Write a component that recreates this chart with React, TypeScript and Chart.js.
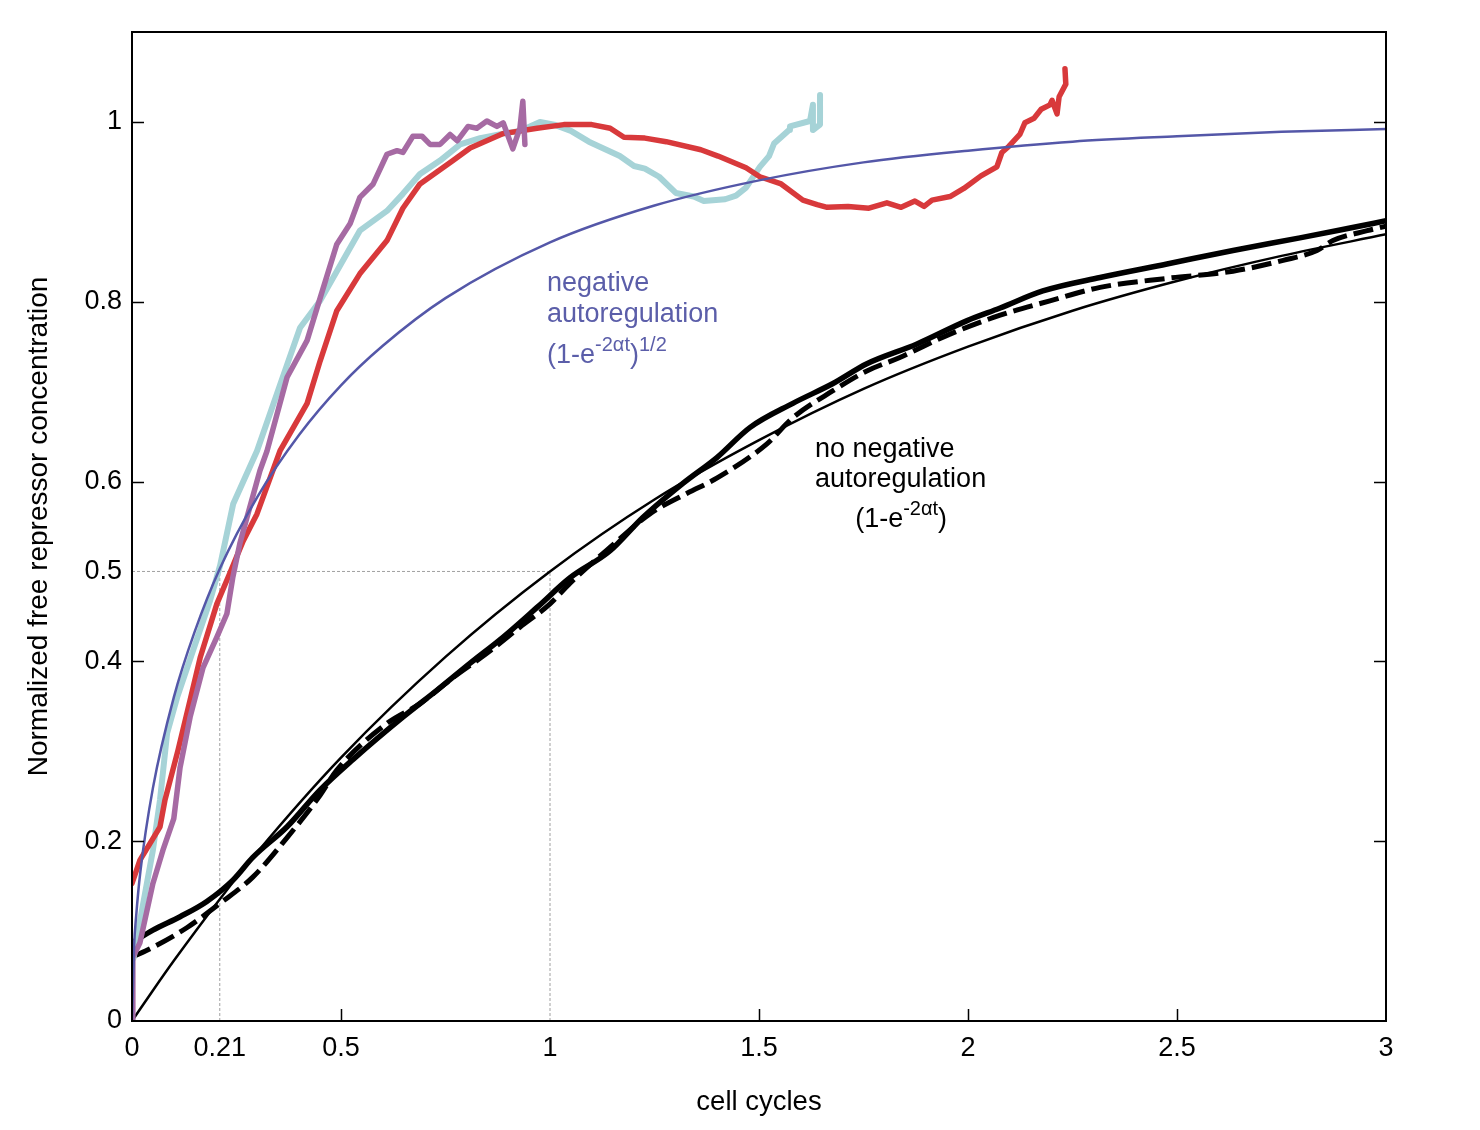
import React, { useEffect, useRef } from "react";
import { Chart, registerables } from "chart.js";

Chart.register(...registerables);

// ---- axis ticks ----
const xTickLabels = [0, 0.21, 0.5, 1, 1.5, 2, 2.5, 3];
const yTickLabels = [0, 0.2, 0.4, 0.5, 0.6, 0.8, 1];
const xTickMarks = [0.5, 1.5, 2, 2.5];
const yTickMarks = [0.2, 0.4, 0.6, 0.8, 1];

// ---- theoretical: no negative autoregulation (1-e^-2at) ----
const simpleT = [0, 0.05, 0.1, 0.21, 0.3, 0.5, 0.75, 1, 1.25, 1.5, 1.75, 2, 2.25, 2.5, 2.75, 3];
const simpleV = [0, 0.034, 0.067, 0.1355, 0.188, 0.293, 0.405, 0.5, 0.58, 0.646, 0.703, 0.75, 0.79, 0.823, 0.851, 0.875];

// ---- theoretical: negative autoregulation (1-e^-2at)^1/2 ----
const narT = [0, 0.005, 0.01, 0.02, 0.05, 0.1, 0.15, 0.21, 0.3, 0.4, 0.5, 0.6, 0.75, 1, 1.25, 1.5, 1.75, 2, 2.25, 2.5, 2.75, 3];
const narV = [0, 0.083, 0.117, 0.166, 0.259, 0.36, 0.433, 0.503, 0.583, 0.652, 0.707, 0.751, 0.804, 0.866, 0.907, 0.935, 0.955, 0.968, 0.978, 0.984, 0.989, 0.992];

// ---- measured: no autoregulation (thick solid) ----
const solidT = [0, 0.05, 0.115, 0.179, 0.242, 0.289, 0.371, 0.45, 0.529, 0.648, 0.73, 0.809, 0.888, 0.969, 1.048, 1.144, 1.222, 1.318, 1.4, 1.478, 1.581, 1.677, 1.758, 1.878, 1.998, 2.077, 2.179, 2.316, 2.476, 2.634, 2.794, 2.914, 3.0];
const solidV = [0.087, 0.101, 0.116, 0.133, 0.157, 0.182, 0.216, 0.257, 0.291, 0.338, 0.368, 0.398, 0.427, 0.46, 0.493, 0.523, 0.56, 0.598, 0.627, 0.66, 0.687, 0.709, 0.731, 0.753, 0.779, 0.793, 0.812, 0.827, 0.842, 0.857, 0.871, 0.882, 0.89];

// ---- measured: no autoregulation (thick dashed) ----
const dashT = [0, 0.05, 0.132, 0.211, 0.289, 0.371, 0.45, 0.49, 0.61, 0.689, 0.768, 0.849, 0.928, 1.0, 1.048, 1.144, 1.239, 1.328, 1.4, 1.519, 1.581, 1.677, 1.758, 1.837, 1.957, 2.077, 2.196, 2.316, 2.476, 2.634, 2.754, 2.835, 2.873, 2.955, 3.0];
const dashV = [0.071, 0.082, 0.104, 0.131, 0.16, 0.204, 0.251, 0.279, 0.331, 0.353, 0.382, 0.409, 0.438, 0.464, 0.487, 0.527, 0.564, 0.587, 0.604, 0.642, 0.671, 0.701, 0.723, 0.738, 0.764, 0.785, 0.801, 0.816, 0.826, 0.834, 0.846, 0.857, 0.868, 0.879, 0.884];

// ---- measured: negative autoregulation, red ----
const redT = [0, 0.019, 0.067, 0.079, 0.11, 0.139, 0.163, 0.203, 0.234, 0.266, 0.299, 0.354, 0.419, 0.45, 0.49, 0.545, 0.61, 0.648, 0.689, 0.768, 0.809, 0.888, 0.969, 1.033, 1.1, 1.144, 1.177, 1.227, 1.278, 1.361, 1.402, 1.469, 1.502, 1.553, 1.605, 1.639, 1.663, 1.713, 1.763, 1.806, 1.84, 1.873, 1.895, 1.914, 1.957, 1.99, 2.031, 2.069, 2.081, 2.098, 2.124, 2.136, 2.158, 2.175, 2.196, 2.201, 2.213, 2.218, 2.234, 2.232];
const redV = [0.153, 0.179, 0.216, 0.246, 0.301, 0.357, 0.404, 0.464, 0.498, 0.534, 0.564, 0.634, 0.687, 0.734, 0.79, 0.831, 0.868, 0.904, 0.931, 0.957, 0.971, 0.987, 0.993, 0.997, 0.997, 0.993, 0.983, 0.982, 0.978, 0.969, 0.962, 0.949, 0.939, 0.931, 0.913, 0.908, 0.905, 0.906, 0.904, 0.91, 0.905, 0.912, 0.906, 0.913, 0.917, 0.926, 0.94, 0.95, 0.966, 0.973, 0.986, 0.999, 1.004, 1.014, 1.019, 1.024, 1.009, 1.028, 1.042, 1.059];

// ---- measured: negative autoregulation, cyan ----
const cyanT = [0.004, 0.012, 0.05, 0.067, 0.084, 0.108, 0.146, 0.187, 0.211, 0.242, 0.299, 0.347, 0.402, 0.45, 0.545, 0.61, 0.648, 0.689, 0.737, 0.785, 0.833, 0.888, 0.928, 0.976, 1.01, 1.05, 1.093, 1.167, 1.201, 1.227, 1.261, 1.301, 1.344, 1.368, 1.419, 1.445, 1.469, 1.502, 1.524, 1.536, 1.572, 1.574, 1.622, 1.629, 1.629, 1.646, 1.646];
const cyanV = [0.07, 0.093, 0.19, 0.246, 0.32, 0.36, 0.412, 0.468, 0.507, 0.575, 0.634, 0.698, 0.771, 0.801, 0.879, 0.901, 0.92, 0.942, 0.957, 0.975, 0.982, 0.987, 0.99, 1.0, 0.997, 0.99, 0.978, 0.962, 0.951, 0.948, 0.939, 0.921, 0.917, 0.912, 0.914, 0.918, 0.927, 0.95, 0.962, 0.976, 0.991, 0.995, 1.001, 1.019, 0.991, 0.997, 1.03];

// ---- measured: negative autoregulation, purple ----
const purpleT = [0, 0.002, 0.019, 0.05, 0.074, 0.1, 0.115, 0.139, 0.17, 0.203, 0.227, 0.241, 0.258, 0.275, 0.306, 0.323, 0.371, 0.419, 0.45, 0.49, 0.522, 0.545, 0.577, 0.61, 0.634, 0.648, 0.672, 0.694, 0.713, 0.737, 0.761, 0.778, 0.804, 0.825, 0.849, 0.873, 0.888, 0.911, 0.928, 0.935, 0.94];
const purpleV = [0, 0.071, 0.087, 0.153, 0.19, 0.225, 0.282, 0.338, 0.393, 0.427, 0.453, 0.493, 0.531, 0.56, 0.612, 0.634, 0.716, 0.757, 0.804, 0.864, 0.887, 0.916, 0.931, 0.964, 0.968, 0.966, 0.984, 0.984, 0.975, 0.975, 0.986, 0.979, 0.995, 0.993, 1.001, 0.995, 0.999, 0.97, 0.993, 1.023, 0.975];

// ---- guide lines ----
const guideH = { t: [0, 1], v: [0.5, 0.5] };
const guideV1 = { t: [0.21, 0.21], v: [0, 0.5] };
const guideV2 = { t: [1, 1], v: [0, 0.5] };

const pts = (t: number[], v: number[]) => t.map((x, i) => ({ x, y: v[i] }));

const FONT = '"Liberation Sans", Arial, Helvetica, sans-serif';
const BLUE_LINE = "#5457a8";
const BLUE_TEXT = "#5b5ea9";

type Part = { t: string; sup?: boolean };

function drawRich(ctx: CanvasRenderingContext2D, x: number, y: number, parts: Part[]) {
  let cx = x;
  for (const p of parts) {
    ctx.font = p.sup ? `20px ${FONT}` : `27px ${FONT}`;
    ctx.fillText(p.t, cx, p.sup ? y - 12 : y);
    cx += ctx.measureText(p.t).width;
  }
}

const framePlugin = {
  id: "frameTicksNotes",
  afterDraw(chart: any) {
    const { ctx, chartArea: a, scales } = chart;
    const xs = scales.x;
    const ys = scales.y;
    ctx.save();
    ctx.strokeStyle = "#000";
    ctx.lineWidth = 2;
    ctx.strokeRect(a.left, a.top, a.right - a.left, a.bottom - a.top);
    ctx.lineWidth = 1.5;
    ctx.beginPath();
    for (const v of yTickMarks) {
      const py = Math.round(ys.getPixelForValue(v)) + 0.5;
      ctx.moveTo(a.left, py);
      ctx.lineTo(a.left + 12, py);
      ctx.moveTo(a.right, py);
      ctx.lineTo(a.right - 12, py);
    }
    for (const v of xTickMarks) {
      const px = Math.round(xs.getPixelForValue(v)) + 0.5;
      ctx.moveTo(px, a.bottom);
      ctx.lineTo(px, a.bottom - 12);
    }
    ctx.stroke();

    ctx.textBaseline = "alphabetic";
    ctx.textAlign = "left";
    // negative autoregulation label
    ctx.fillStyle = BLUE_TEXT;
    const nx = xs.getPixelForValue(0.993);
    const ny = ys.getPixelForValue(0.812);
    ctx.font = `27px ${FONT}`;
    ctx.fillText("negative", nx, ny);
    ctx.fillText("autoregulation", nx, ny + 31);
    drawRich(ctx, nx, ny + 72, [
      { t: "(1-e" },
      { t: "-2\u03b1t", sup: true },
      { t: ")" },
      { t: "1/2", sup: true },
    ]);
    // no negative autoregulation label
    ctx.fillStyle = "#000";
    const mx = xs.getPixelForValue(1.634);
    const my = ys.getPixelForValue(0.627);
    ctx.font = `27px ${FONT}`;
    ctx.fillText("no negative", mx, my);
    ctx.fillText("autoregulation", mx, my + 30);
    drawRich(ctx, xs.getPixelForValue(1.73), my + 70, [
      { t: "(1-e" },
      { t: "-2\u03b1t", sup: true },
      { t: ")" },
    ]);
    ctx.restore();
  },
};

export default function App() {
  const ref = useRef<HTMLCanvasElement | null>(null);

  useEffect(() => {
    if (!ref.current) return;
    const guide = (d: { t: number[]; v: number[] }) => ({
      data: pts(d.t, d.v),
      borderColor: "#a0a0a0",
      borderWidth: 1,
      borderDash: [3, 2],
      pointRadius: 0,
      order: 20,
    });
    const chart = new Chart(ref.current, {
      type: "line",
      data: {
        datasets: [
          guide(guideH),
          guide(guideV1),
          guide(guideV2),
          {
            data: pts(simpleT, simpleV),
            borderColor: "#000",
            borderWidth: 2.5,
            pointRadius: 0,
            cubicInterpolationMode: "monotone",
            order: 12,
          },
          {
            data: pts(dashT, dashV),
            borderColor: "#000",
            borderWidth: 5,
            borderDash: [20, 7],
            pointRadius: 0,
            cubicInterpolationMode: "monotone",
            order: 11,
          },
          {
            data: pts(solidT, solidV),
            borderColor: "#000",
            borderWidth: 5.5,
            pointRadius: 0,
            cubicInterpolationMode: "monotone",
            order: 10,
          },
          {
            data: pts(cyanT, cyanV),
            borderColor: "#a6d3d7",
            borderWidth: 6,
            pointRadius: 0,
            tension: 0,
            borderJoinStyle: "round",
            borderCapStyle: "round",
            order: 5,
          },
          {
            data: pts(redT, redV),
            borderColor: "#d8393b",
            borderWidth: 5.5,
            pointRadius: 0,
            tension: 0,
            borderJoinStyle: "round",
            borderCapStyle: "round",
            order: 4,
          },
          {
            data: pts(purpleT, purpleV),
            borderColor: "#a66aa3",
            borderWidth: 5.5,
            pointRadius: 0,
            tension: 0,
            borderJoinStyle: "round",
            borderCapStyle: "round",
            order: 3,
          },
          {
            data: pts(narT, narV),
            borderColor: BLUE_LINE,
            borderWidth: 2.5,
            pointRadius: 0,
            cubicInterpolationMode: "monotone",
            order: 1,
          },
        ],
      },
      options: {
        animation: false,
        responsive: false,
        devicePixelRatio: 1,
        events: [],
        layout: { padding: { top: 32, right: 94, left: 0, bottom: 0 } },
        plugins: {
          legend: { display: false },
          tooltip: { enabled: false },
        },
        scales: {
          x: {
            type: "linear",
            min: 0,
            max: 3,
            grid: { display: false, drawTicks: false },
            border: { display: false },
            afterBuildTicks: (s: any) => {
              s.ticks = xTickLabels.map((value) => ({ value }));
            },
            afterFit: (s: any) => {
              s.height = 109;
            },
            ticks: {
              padding: 11,
              maxRotation: 0,
              autoSkip: false,
              color: "#000",
              font: { family: FONT, size: 27 },
              callback: (v: any) => String(v),
            },
            title: {
              display: true,
              text: "cell cycles",
              color: "#000",
              font: { family: FONT, size: 27.5 },
              padding: { top: 0, bottom: 11 },
            },
          },
          y: {
            type: "linear",
            min: 0,
            max: 1.1,
            grid: { display: false, drawTicks: false },
            border: { display: false },
            afterBuildTicks: (s: any) => {
              s.ticks = yTickLabels.map((value) => ({ value }));
            },
            afterFit: (s: any) => {
              s.width = 132;
            },
            ticks: {
              padding: 10,
              autoSkip: false,
              color: "#000",
              font: { family: FONT, size: 27 },
              callback: (v: any) => String(v),
            },
            title: {
              display: true,
              text: "Normalized free repressor concentration",
              color: "#000",
              font: { family: FONT, size: 28 },
              padding: { top: 22, bottom: 0 },
            },
          },
        },
      },
      plugins: [framePlugin],
    } as any);
    return () => chart.destroy();
  }, []);

  return (
    <div style={{ position: "absolute", left: 0, top: 0, width: 1480, height: 1130, background: "#fff" }}>
      <canvas ref={ref} width={1480} height={1130} />
    </div>
  );
}
